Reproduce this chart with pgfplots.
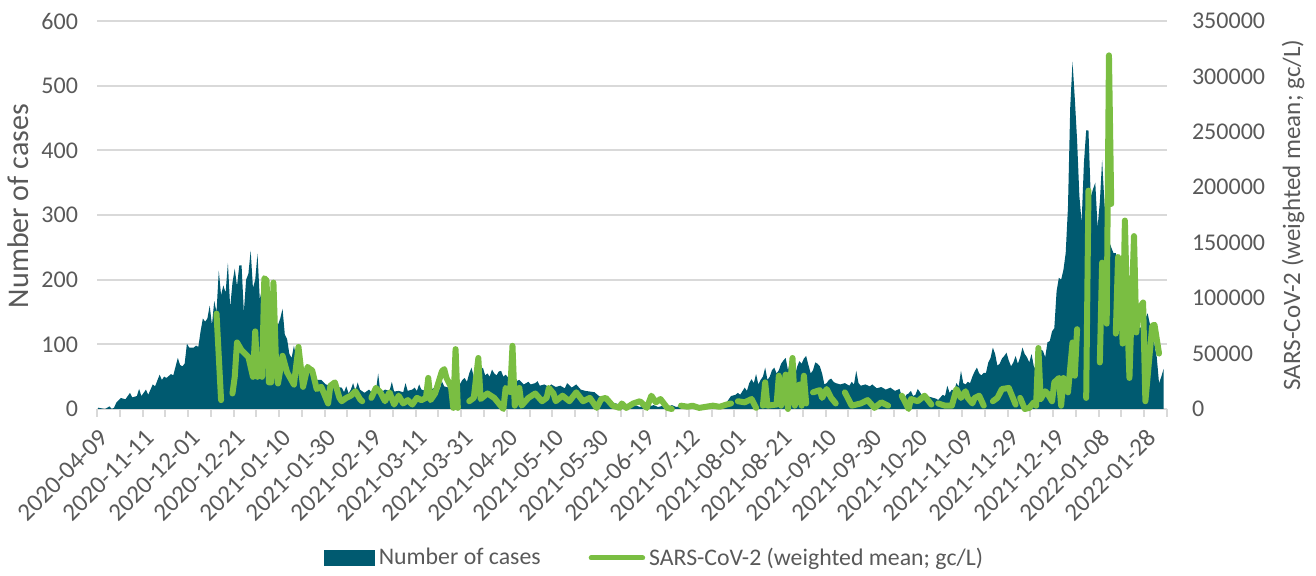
\documentclass[border=0pt]{standalone}
\usepackage{fontspec}
\setmainfont{Carlito}
\usepackage{pgfplots}
\pgfplotsset{compat=1.18}
\usepackage{pgfplotstable}
\definecolor{casesblue}{RGB}{0,90,112}
\definecolor{sarsgreen}{RGB}{122,190,66}
\definecolor{gridgrey}{RGB}{217,217,217}
\definecolor{textgrey}{RGB}{89,89,89}

\pgfplotstableread{
x y
0 2
3 0
5 4
6 0
7 2
8 10
10 17
12 15
14 25
15 18
17 20
18 31
19 20
21 30
22 22
24 38
25 35
27 53
28 45
29 50
30 48
32 54
33 52
35 79
36 68
37 66
38 70
39 101
40 95
42 95
43 98
44 96
45 120
46 140
47 135
48 140
49 160
50 130
51 167
52 150
53 214
54 176
55 191
56 180
57 226
58 157
59 195
60 217
61 190
62 222
63 222
64 150
65 200
66 209
67 245
68 187
69 200
70 240
71 170
72 185
73 203
74 121
75 150
76 175
77 194
78 121
79 130
80 140
81 155
82 115
83 108
84 85
85 79
86 98
87 80
88 70
90 65
92 59
94 52
96 45
98 45
100 38
102 36
105 34
107 33
108 26
109 35
110 24
111 30
112 40
113 28
114 41
115 30
117 25
119 30
121 22
122 27
123 55
124 25
126 30
128 28
129 42
130 27
132 28
134 26
135 40
136 28
138 30
139 33
140 28
141 38
142 30
144 28
145 35
146 30
148 33
150 30
151 43
152 35
154 33
156 35
158 33
160 45
161 48
162 42
163 55
164 64
165 50
166 57
167 52
168 60
169 64
170 52
171 55
172 50
173 61
174 55
175 52
176 58
177 59
178 50
179 53
181 45
183 42
185 45
187 38
189 42
190 38
192 40
193 43
194 36
196 38
198 34
199 38
201 34
203 36
205 32
206 40
208 33
210 38
212 30
214 28
216 27
218 26
220 20
222 17
224 13
226 10
228 8
230 8
232 5
234 4
236 6
238 3
240 7
242 4
244 6
246 3
248 5
250 2
252 6
254 3
256 5
258 2
260 4
262 3
264 5
266 3
268 6
270 4
272 7
274 8
276 10
278 20
280 22
281 25
282 22
284 33
285 28
286 40
287 46
288 40
289 54
290 38
291 45
292 50
293 64
294 45
295 50
296 60
297 64
298 55
299 60
300 70
301 75
302 79
303 60
304 74
305 60
306 50
307 65
308 74
309 70
310 78
311 82
312 68
313 55
314 60
315 72
316 70
317 66
318 55
319 38
320 40
321 45
322 47
323 42
324 40
326 38
328 40
330 36
331 42
332 38
333 59
334 40
335 36
337 38
339 35
340 38
342 32
344 34
346 30
348 33
350 28
352 31
353 20
354 16
355 22
356 24
357 28
358 20
359 22
360 31
361 26
362 20
364 20
366 18
368 16
369 14
371 22
372 20
373 36
374 25
375 30
376 28
377 40
378 35
379 59
380 40
381 38
382 42
383 40
384 50
385 58
386 64
387 55
388 52
389 56
390 56
391 72
392 79
393 95
394 85
395 67
396 70
397 78
398 82
399 87
400 75
401 66
402 72
403 82
404 70
405 80
406 95
407 85
408 80
409 72
410 85
411 66
412 60
413 88
414 92
415 90
416 80
417 103
418 105
419 120
420 125
421 182
422 203
423 200
424 215
425 241
426 312
427 467
428 537
429 480
430 416
431 330
432 288
433 380
434 431
435 431
436 328
437 340
438 350
439 281
440 320
441 385
442 320
443 274
444 260
445 250
446 241
447 241
448 230
449 199
450 205
451 197
452 180
453 160
454 141
455 145
456 135
457 131
458 125
459 107
460 140
461 148
462 131
463 120
464 100
465 80
466 40
467 50
468 62
}\casesdata

\pgfplotstableread{
x y
52 86000
53 47000
54 8000
55 nan
59 14000
60 29000
61 60000
63 53000
66 47000
68 29000
69 70000
70 29000
71 nan
72 29000
73 118000
74 116000
75 24000
76 24000
77 114000
78 50000
79 23000
81 48000
83 33000
86 22000
88 56000
90 20000
92 38000
93 36000
94 35000
96 18000
98 20000
101 5000
102 21000
104 24000
106 10000
107 7000
109 10000
111 12000
113 16000
115 9000
116 7000
117 nan
120 10000
122 19000
124 15000
126 7000
128 15000
130 4000
132 12000
134 5000
136 8000
138 4000
140 10000
142 8000
144 10000
145 28000
146 8000
148 14000
151 34000
152 36000
153 28000
155 20000
156 1000
157 54000
158 1000
159 nan
163 7000
165 10000
167 46000
168 9000
171 14000
174 10000
176 5000
178 0
179 19000
181 15000
182 57000
183 3000
185 19000
186 3000
189 10000
192 14000
195 7000
197 10000
198 19000
200 14000
201 7000
204 12000
207 7000
210 15000
213 7000
216 10000
219 1000
221 9000
223 10000
226 3000
229 1000
230 5000
232 1000
235 5000
238 7000
241 1000
243 12000
245 6000
247 9000
250 1000
252 0
253 nan
256 3000
259 2000
261 3000
264 1000
267 2000
270 3000
273 2000
276 4000
278 5000
279 nan
281 7000
284 6000
287 9000
289 1000
290 nan
292 3000
293 24000
294 3000
298 4000
299 30000
300 3000
302 31000
303 0
305 46000
306 3000
308 22000
309 3000
310 30000
311 5000
312 nan
314 15000
317 17000
318 10000
320 18000
322 10000
324 5000
325 nan
328 15000
331 3000
335 5000
338 8000
341 1000
344 6000
347 3000
349 nan
353 12000
356 0
357 9000
360 7000
363 12000
366 4000
367 nan
369 5000
372 3000
375 3000
377 18000
379 10000
381 16000
382 10000
384 5000
385 10000
387 12000
389 3000
390 nan
393 7000
395 10000
397 18000
400 19000
401 14000
403 4000
404 nan
405 10000
407 0
409 1000
411 6000
412 3000
413 55000
414 9000
416 16000
417 14000
419 7000
420 24000
422 28000
423 3000
424 28000
425 nan
426 15000
428 60000
429 30000
430 72000
431 nan
434 10000
435 197000
436 nan
440 42000
441 132000
443 77000
444 319000
445 185000
446 nan
447 68000
448 137000
449 130000
450 59000
451 170000
452 86000
453 28000
455 156000
456 69000
457 90000
459 96000
460 7000
463 75000
464 76000
466 50000
}\sarsdata

\begin{document}
\begin{tikzpicture}
\useasboundingbox (0,0) rectangle (658pt,288pt);
\begin{axis}[
  at={(48.5pt,83.5pt)}, anchor=south west,
  width=535pt, height=194pt, scale only axis,
  xmin=-0.5, xmax=469.5, ymin=0, ymax=600,
  axis x line*=bottom, axis y line*=left,
  y axis line style={draw=none},
  x axis line style={draw=gridgrey, line width=1pt, -},
  ytick={0,100,...,600},
  ymajorgrids, grid style={gridgrey, line width=1pt},
  xtick={0,20,...,460},
  xticklabels={2020-04-09,2020-11-11,2020-12-01,2020-12-21,2021-01-10,2021-01-30,2021-02-19,2021-03-11,2021-03-31,2021-04-20,2021-05-10,2021-05-30,2021-06-19,2021-07-12,2021-08-01,2021-08-21,2021-09-10,2021-09-30,2021-10-20,2021-11-09,2021-11-29,2021-12-19,2022-01-08,2022-01-28},
  major tick length=0pt,
  extra x ticks={-0.5,9.5,...,469.5},
  extra x tick labels={},
  extra x tick style={major tick length=4pt, tick align=outside, tick style={draw=gridgrey, line width=1pt}, grid=none},
  /pgf/number format/assume math mode=true,
  tick label style={font=\fontsize{12}{14}\selectfont, text=textgrey},
  yticklabel style={xshift=-6pt},
  xticklabel style={rotate=45, anchor=east, inner sep=0pt, xshift=-6.5pt, yshift=-11pt, font=\fontsize{12.5}{14}\selectfont},
  ylabel={Number of cases},
  every axis y label/.style={at={(axis description cs:-0.0738,0.523)}, anchor=center, rotate=90, font=\fontsize{15}{17}\selectfont, text=textgrey},
]
\addplot[fill=casesblue, draw=none] table {\casesdata} \closedcycle;
\end{axis}
\begin{axis}[
  at={(48.5pt,83.5pt)}, anchor=south west,
  width=535pt, height=194pt, scale only axis,
  xmin=-0.5, xmax=469.5, ymin=0, ymax=350000,
  axis x line=none, axis y line*=right,
  y axis line style={draw=none},
  ytick={0,50000,...,350000},
  scaled y ticks=false,
  major tick length=0pt,
  clip=false,
  /pgf/number format/assume math mode=true,
  yticklabel style={/pgf/number format/fixed, /pgf/number format/1000 sep={}, font=\fontsize{12}{14}\selectfont, text=textgrey, xshift=9pt},
  ylabel={SARS-CoV-2 (weighted mean; gc/L)},
  every axis y label/.style={at={(axis description cs:1.1178,0.5)}, anchor=center, rotate=90, font=\fontsize{12.5}{15}\selectfont, text=textgrey},
  legend columns=2,
  legend style={at={(axis description cs:0.522,-0.384)}, anchor=center, draw=none, fill=none, font=\fontsize{11.9}{13}\selectfont, text=textgrey, /tikz/every even column/.append style={column sep=22pt}},
]
\addlegendimage{legend image code/.code={\fill[casesblue] (0pt,-3.75pt) rectangle (25pt,3.75pt);}}
\addlegendentry{Number of cases}
\addplot[sarsgreen, line width=3pt, line cap=round, line join=round, unbounded coords=jump,
  legend image code/.code={\draw[sarsgreen, line width=2.5pt, line cap=round] (1.25pt,0pt) -- (27pt,0pt);}] table {\sarsdata};
\addlegendentry{SARS-CoV-2 (weighted mean; gc/L)}
\end{axis}
\end{tikzpicture}
\end{document}
